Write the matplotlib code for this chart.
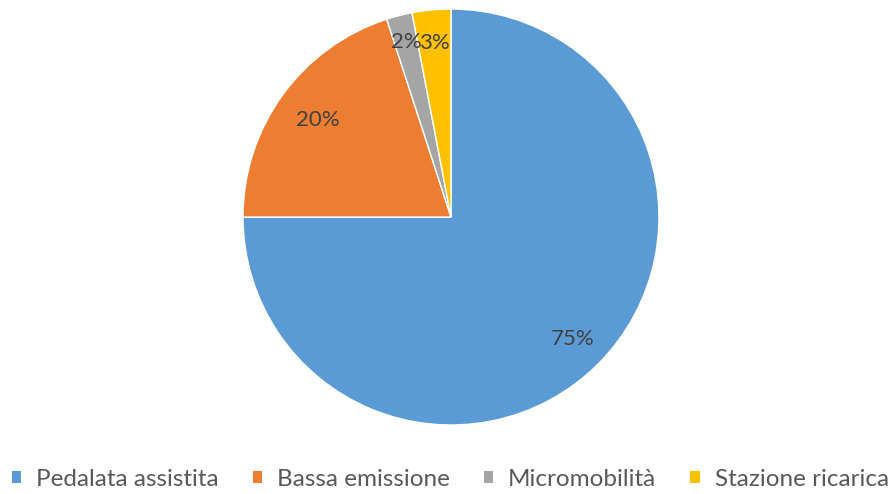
import matplotlib
matplotlib.use("Agg")
from matplotlib import pyplot as plt
from matplotlib.patches import Patch
import numpy as np

categories = ["Pedalata assistita", "Bassa emissione", "Micromobilità", "Stazione ricarica"]
values = [75, 20, 2, 3]
colors = ["#5B9BD5", "#ED7D31", "#A5A5A5", "#FFC000"]
# radial position of each percentage label (fraction of radius)
label_dist = [0.83, 0.79, 0.87, 0.84]

plt.rcParams['font.family'] = ['Lato', 'DejaVu Sans']

fig = plt.figure(figsize=(8.95, 4.94), dpi=100)
ax = fig.add_axes([0.2715, 0.1397, 0.4648, 0.842])

wedges, texts, autotexts = ax.pie(
    values, colors=colors, startangle=90, counterclock=False,
    autopct=lambda p: f"{p:.0f}%", pctdistance=0.82,
    wedgeprops=dict(edgecolor="white", linewidth=1),
    textprops=dict(color="#404040", fontsize=16),
)
# move labels to the distances used in the original
for w, t, d in zip(wedges, autotexts, label_dist):
    ang = np.deg2rad((w.theta1 + w.theta2) / 2)
    t.set_position((d * np.cos(ang), d * np.sin(ang)))

ax.set_aspect("equal")
ax.set_xlim(-1, 1)
ax.set_ylim(-1, 1)

handles = [Patch(facecolor=c, edgecolor="none") for c in colors]
fig.legend(handles, categories, loc="center", bbox_to_anchor=(0.503, 0.03),
           ncol=4, frameon=False, fontsize=17.5, handlelength=0.4, handleheight=0.4,
           handletextpad=0.6, columnspacing=1.4, labelcolor="#595959")

fig.savefig("out.png", dpi=100)
